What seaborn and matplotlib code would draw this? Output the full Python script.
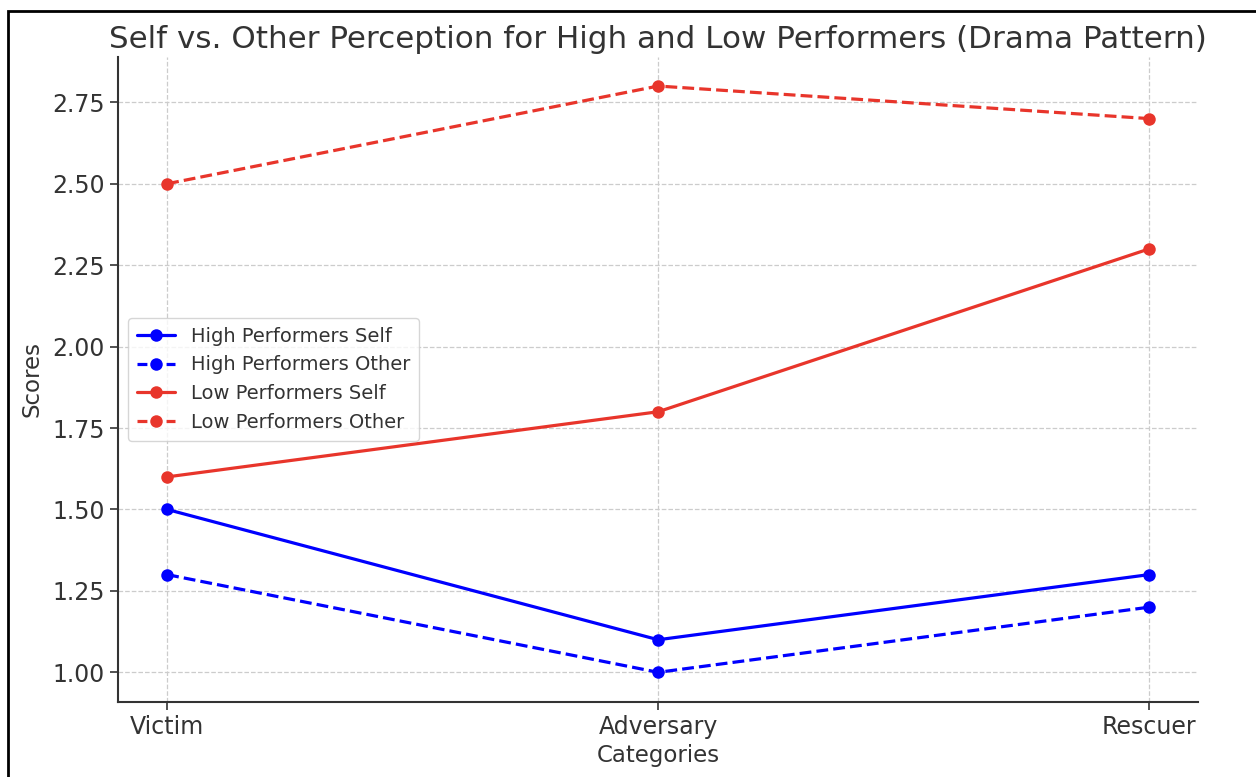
import matplotlib
matplotlib.use("Agg")
import matplotlib.pyplot as plt
import seaborn as sns
import pandas as pd
from matplotlib.patches import Rectangle

# data
categories = ["Victim", "Adversary", "Rescuer"]
high_self = [1.5, 1.1, 1.3]
high_other = [1.3, 1.0, 1.2]
low_self = [1.6, 1.8, 2.3]
low_other = [2.5, 2.8, 2.7]

series_names = ["High Performers Self", "High Performers Other",
                "Low Performers Self", "Low Performers Other"]
series_vals = [high_self, high_other, low_self, low_other]

rows = []
for name, vals in zip(series_names, series_vals):
    for c, v in zip(categories, vals):
        rows.append({"Category": c, "Score": v, "Series": name})
df = pd.DataFrame(rows)

sns.set_theme(style="ticks")
plt.rcParams["font.family"] = ["DejaVu Sans"]
plt.rcParams["text.color"] = "#333333"
plt.rcParams["axes.labelcolor"] = "#333333"
plt.rcParams["xtick.color"] = "#333333"
plt.rcParams["ytick.color"] = "#333333"

fig, ax = plt.subplots(figsize=(12.56, 7.77), dpi=100)
fig.subplots_adjust(left=0.094, right=0.954, top=0.927, bottom=0.097)

blue = "#0000ff"
red = "#e8352b"
styles = {
    "High Performers Self": (blue, "-"),
    "High Performers Other": (blue, "--"),
    "Low Performers Self": (red, "-"),
    "Low Performers Other": (red, "--"),
}

for name in series_names:
    col, ls = styles[name]
    sub = df[df["Series"] == name]
    sns.lineplot(data=sub, x="Category", y="Score", ax=ax, color=col,
                 linestyle=ls, linewidth=2.3, marker="o", markersize=9,
                 markeredgewidth=0, label=name, sort=False)

ax.set_xlim(-0.1, 2.1)
ax.set_title("Self vs. Other Perception for High and Low Performers (Drama Pattern)",
             fontsize=22.3, color="#333333", pad=6)
ax.set_xlabel("Categories", fontsize=16.5)
ax.set_ylabel("Scores", fontsize=16.5, labelpad=6)
ax.tick_params(axis="both", labelsize=17, length=6, width=1.2, colors="#333333")
ax.yaxis.set_major_formatter(matplotlib.ticker.FormatStrFormatter("%.2f"))
ax.grid(True, linestyle="--", color="#cccccc", linewidth=0.9)
ax.set_axisbelow(True)
sns.despine(ax=ax)
for s in ["left", "bottom"]:
    ax.spines[s].set_color("#333333")
    ax.spines[s].set_linewidth(1.5)

leg = ax.legend(loc="center left", fontsize=14, frameon=True,
                handlelength=2.0, borderpad=0.45)
leg.get_frame().set_edgecolor("#cccccc")
for t in leg.get_texts():
    t.set_color("#333333")
# dash - marker - dash look for the dashed legend handles
for name, ln in zip(series_names, leg.get_lines()):
    if styles[name][1] == "--":
        ln.set_linestyle((0, (3.1, 6.0)))

# screenshot frame at the top and left edges
fig.patches.append(Rectangle((8 / 1256, -0.1), 1.2, (777 - 11) / 777 + 0.1,
                             transform=fig.transFigure, fill=False,
                             edgecolor="black", linewidth=2, zorder=10))

fig.savefig("out.png", dpi=100, facecolor="white")
